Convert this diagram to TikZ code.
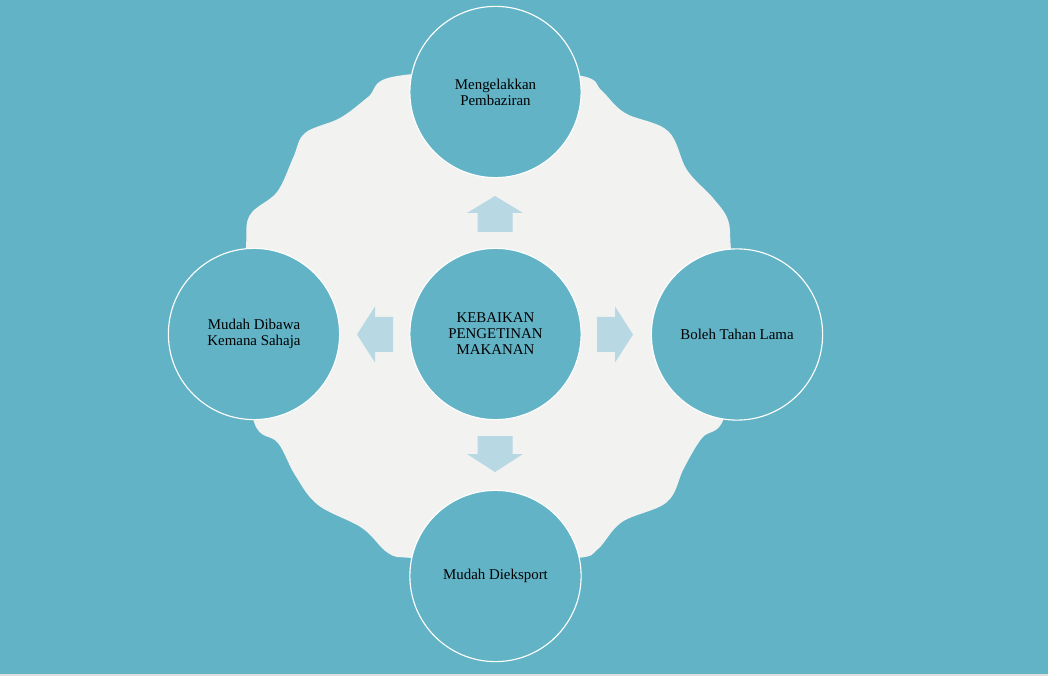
\documentclass[tikz,border=0pt]{standalone}
\usepackage{fontspec}
\setmainfont{Liberation Serif}
\definecolor{bg}{HTML}{63B3C6}
\definecolor{blobc}{HTML}{F2F2F1}
\definecolor{arr}{HTML}{B8D8E3}
\tikzset{
  circ/.style={circle, draw=white, line width=0.8pt, fill=bg, minimum size=4.28cm, inner sep=0pt,
    align=center, text=black, font=\fontsize{10.6}{11.4}\selectfont},
  blockarrow/.style={fill=arr, draw=none}
}
\begin{document}
\begin{tikzpicture}[x=0.025cm, y=-0.025cm]
\fill[bg] (0,0) rectangle (1048,676);
\fill[gray!25] (0,674) rectangle (1048,676);
\useasboundingbox (0,0) rectangle (1048,676);
% wavy background blob
\fill[blobc] plot[smooth cycle, tension=0.6] coordinates {
  (495,70) (582,76) (602,91) (625,113) (668,131) (687,170) (713,198) (728,220) (731,250)
  (738,334)
  (724,418) (702,438) (684,468) (667,502) (622,522) (598,549) (578,558)
  (495,562)
  (412,558) (388,553) (362,528) (318,505) (295,475) (278,443) (254,422)
  (243,334)
  (246,247) (250,215) (277,192) (293,158) (305,133) (340,118) (368,97) (392,77)
};
% block arrows
\fill[blockarrow] (495,196) -- (523,213) -- (512.5,213) -- (512.5,232) -- (477.5,232) -- (477.5,213) -- (467,213) -- cycle;
\fill[blockarrow] (495,472) -- (523,454) -- (512.5,454) -- (512.5,436) -- (477.5,436) -- (477.5,454) -- (467,454) -- cycle;
\fill[blockarrow] (633,334.5) -- (615,306.5) -- (615,317) -- (597,317) -- (597,352) -- (615,352) -- (615,362.5) -- cycle;
\fill[blockarrow] (357,334.5) -- (375,306.5) -- (375,317) -- (393,317) -- (393,352) -- (375,352) -- (375,362.5) -- cycle;
% circles
\node[circ] (c) at (495.5,334) {KEBAIKAN\\PENGETINAN\\MAKANAN};
\node[circ] (t) at (495.5,92) {Mengelakkan\\Pembaziran};
\node[circ] (r) at (737,334.5) {Boleh Tahan Lama};
\node[circ] (b) at (495.5,576) {Mudah Dieksport};
\node[circ] (l) at (254,334) {Mudah Dibawa\\Kemana Sahaja};
\end{tikzpicture}
\end{document}
